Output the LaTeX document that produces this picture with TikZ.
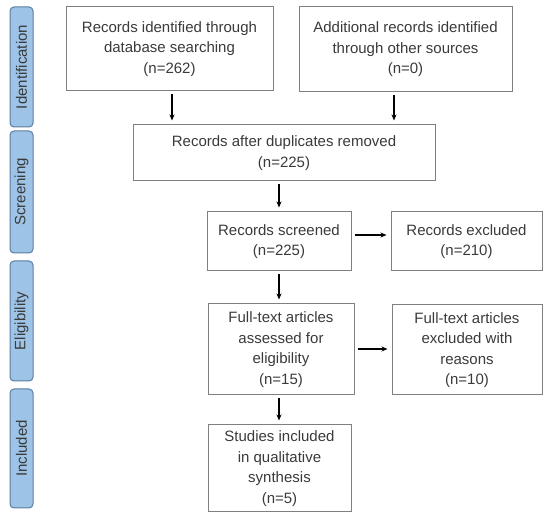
\documentclass[tikz,border=0pt]{standalone}
\usepackage{fontspec}
\setmainfont{Liberation Sans}
\usetikzlibrary{arrows.meta}
\definecolor{boxline}{HTML}{7F7F7F}
\definecolor{txt}{HTML}{3A3A3A}
\definecolor{sidefill}{HTML}{9DC3E6}
\definecolor{sideline}{HTML}{5A7DA0}
\begin{document}
\begin{tikzpicture}[x=1pt,y=-1pt,
  box/.style={draw=boxline, line width=1pt, align=center, text=txt, inner sep=2pt,
    font=\fontsize{15}{20.5}\selectfont},
  side/.style={draw=sideline, fill=sidefill, line width=1pt, rounded corners=4pt,
    minimum height=23pt, text=txt, font=\fontsize{15}{17}\selectfont, inner sep=0pt},
  arr/.style={-{Stealth[length=6pt,width=5pt]}, line width=1.3pt, black,
    shorten <=3pt, shorten >=4pt}]
\useasboundingbox (0,0) rectangle (550,518);
% side labels
\node[side, minimum width=120pt, rotate=90] (sid) at (21.5,67) {Identification};
\node[side, minimum width=122pt, rotate=90] (ssc) at (21.5,192) {Screening};
\node[side, minimum width=120pt, rotate=90] (sel) at (21.5,321) {Eligibility};
\node[side, minimum width=119pt, rotate=90] (sin) at (21.5,448.5) {Included};
% boxes
\node[box, minimum width=207pt, minimum height=84pt] (b1) at (169.5,49) {Records identified through\\database searching\\(n=262)};
\node[box, minimum width=213pt, minimum height=85pt] (b2) at (405.5,49.5) {Additional records identified\\through other sources\\(n=0)};
\node[box, minimum width=302pt, minimum height=56pt] (b3) at (284,153) {Records after duplicates removed\\(n=225)};
\node[box, minimum width=144pt, minimum height=59pt] (b4) at (279,241.5) {Records screened\\(n=225)};
\node[box, minimum width=151pt, minimum height=59pt] (b5) at (466.5,241.5) {Records excluded\\(n=210)};
\node[box, minimum width=146pt, minimum height=91pt] (b6) at (281,349.5) {Full-text articles\\assessed for\\eligibility\\(n=15)};
\node[box, minimum width=150pt, minimum height=90pt] (b7) at (467,350) {Full-text articles\\excluded with\\reasons\\(n=10)};
\node[box, minimum width=143pt, minimum height=87pt] (b8) at (279.5,468.5) {Studies included\\in qualitative\\synthesis\\(n=5)};
% coordinates for arrow positions
\coordinate (x1) at (172,0);
\coordinate (x2) at (394,0);
\coordinate (x3) at (279,0);
\coordinate (y1) at (0,235);
\coordinate (y2) at (0,349);
% arrows
\draw[arr] (b1.south -| x1) -- (b3.north -| x1);
\draw[arr] (b2.south -| x2) -- (b3.north -| x2);
\draw[arr] (b3.south -| x3) -- (b4.north -| x3);
\draw[arr] (b4.east |- y1) -- (b5.west |- y1);
\draw[arr] (b4.south -| x3) -- (b6.north -| x3);
\draw[arr] (b6.east |- y2) -- (b7.west |- y2);
\draw[arr] (b6.south -| x3) -- (b8.north -| x3);
\end{tikzpicture}
\end{document}
